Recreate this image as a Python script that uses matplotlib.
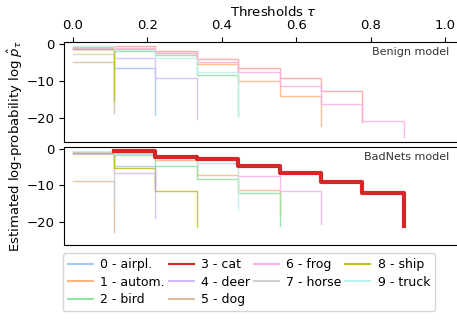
import numpy as np
import matplotlib.pyplot as plt
from matplotlib.lines import Line2D

# thresholds on the x axis
taus = [0.0, 0.111, 0.222, 0.333, 0.444, 0.556, 0.667, 0.778, 0.889]

class_names = ['0 - airpl.', '1 - autom.', '2 - bird', '3 - cat', '4 - deer',
               '5 - dog', '6 - frog', '7 - horse', '8 - ship', '9 - truck']
colors = ['#a1c9f4', '#ffb482', '#8de5a1', '#ff9f9b', '#d0bbff',
          '#debb9b', '#fab0e4', '#cfcfcf', '#bcbd22', '#b9f2f0']
target_color = '#d62728'
target_class = 3

# estimated log-probabilities, one list per class (last value = where the run stops)
benign = [
    [-1.3, -6.6, -19.1],
    [-1.0, -1.5, -2.5, -5.4, -10.0, -14.1, -22.2],
    [-1.2, -1.8, -2.9, -8.4, -19.6],
    [-0.9, -0.6, -2.0, -4.2, -6.6, -9.3, -12.6, -21.0],
    [-1.4, -3.9, -9.3, -20.3],
    [-4.9, -18.6],
    [-1.1, -1.2, -2.4, -4.8, -7.5, -11.4, -16.1, -20.7, -25.0],
    [-2.7, -16.4],
    [-1.3, -15.3],
    [-0.6, -1.7, -3.7, -7.7, -19.5],
]

badnets = [
    [-1.3, -4.9, -11.0],
    [-1.0, -1.5, -3.0, -7.2, -11.3, -18.0],
    [-1.2, -1.9, -4.9, -8.3, -12.2, -21.0],
    [np.nan, -0.6, -2.2, -2.9, -4.9, -6.6, -9.0, -12.2, -21.0],
    [-1.6, -6.8, -19.0],
    [-8.9, -22.8],
    [-0.9, -1.3, -2.4, -3.9, -7.6, -11.6, -20.5],
    [-1.0, -15.2],
    [-1.35, -5.4, -11.6, -21.4],
    [-0.7, -1.4, -2.6, -4.0, -16.9],
]

fig = plt.figure(figsize=(4.57, 3.2), dpi=100)
W, H = 457, 320
left, right = 64, 482
ax1 = fig.add_axes([left / W, 1 - 141.7 / H, (right - left) / W, (141.7 - 42) / H])
ax2 = fig.add_axes([left / W, 1 - 245.3 / H, (right - left) / W, (245.3 - 146.7) / H],
                   sharex=ax1, sharey=ax1)

def draw(ax, runs, highlight):
    for i, vals in enumerate(runs):
        x = taus[:len(vals)]
        if highlight and i == target_class:
            ax.plot(x, vals, drawstyle='steps-post', color=target_color, lw=3, zorder=5)
        else:
            ax.plot(x, vals, drawstyle='steps-post', color=colors[i], lw=1.0, alpha=0.85)

draw(ax1, benign, False)
draw(ax2, badnets, True)

ax1.set_xlim(-0.0233, 1.099)
ax1.set_ylim(-26.4, 0.5)
ax1.set_yticks([0, -10, -20])
ax1.set_xticks([0.0, 0.2, 0.4, 0.6, 0.8, 1.0])
ax1.xaxis.tick_top()
ax1.xaxis.set_label_position('top')
ax1.set_xlabel(r'Thresholds $\tau$', fontsize=9.5, labelpad=2)
ax2.tick_params(axis='x', which='both', bottom=False, top=False, labelbottom=False, labeltop=False)
for ax in (ax1, ax2):
    ax.tick_params(labelsize=9.5)

ax1.text(449 / W, 1 - 52 / H, 'Benign model', transform=fig.transFigure,
         ha='right', va='center', fontsize=8, color='#333333')
ax2.text(449 / W, 1 - 157 / H, 'BadNets model', transform=fig.transFigure,
         ha='right', va='center', fontsize=8, color='#333333')

fig.text(0.033, 0.545, r'Estimated log-probability log $\hat{p}_\tau$',
         rotation=90, ha='center', va='center', fontsize=9.5)

handles = []
for i, name in enumerate(class_names):
    c = target_color if i == target_class else colors[i]
    handles.append(Line2D([], [], color=c, lw=1.5, label=name))
fig.legend(handles=handles, ncol=4, loc='upper center', bbox_to_anchor=(249 / W, 1 - 247 / H),
           fontsize=9, columnspacing=0.3, handletextpad=0.6, labelspacing=0.35,
           borderpad=0.4, frameon=True)

fig.savefig('out.png', dpi=100)
